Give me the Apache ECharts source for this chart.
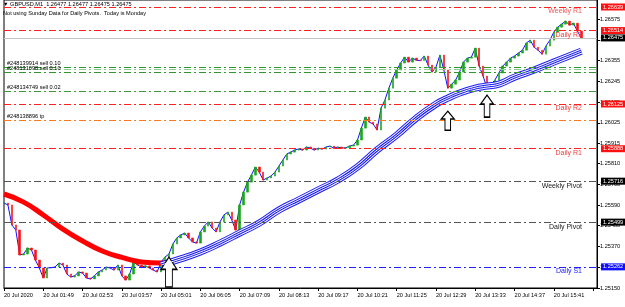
<!DOCTYPE html>
<html>
<head>
<meta charset="utf-8">
<script src="https://cdn.jsdelivr.net/npm/echarts@6/dist/echarts.min.js"></script>
<style>
html, body { margin: 0; padding: 0; background: #fff; }
#chart { width: 625px; height: 307px; }
</style>
</head>
<body>
<div id="chart"></div>
<script>
// GBPUSD M1, bar closes
const closes = [
  1.25600,
  1.25590, 1.25484, 1.25457, 1.25325, 1.25330, 1.25362, 1.25351, 1.25298, 1.25256, 1.25203,
  1.25256, 1.25258, 1.25261, 1.25282, 1.25272, 1.25224, 1.25208, 1.25214, 1.25235, 1.25229,
  1.25203, 1.25198, 1.25214, 1.25235, 1.25245, 1.25261, 1.25256, 1.25245, 1.25272, 1.25214,
  1.25192, 1.25224, 1.25288, 1.25272, 1.25261, 1.25267, 1.25256, 1.25245, 1.25235, 1.25288,
  1.25314, 1.25330, 1.25383, 1.25415, 1.25431, 1.25441, 1.25415, 1.25394, 1.25388, 1.25447,
  1.25478, 1.25500, 1.25468, 1.25447, 1.25500, 1.25537, 1.25552, 1.25510, 1.25457, 1.25590,
  1.25658, 1.25711, 1.25748, 1.25791, 1.25764, 1.25722, 1.25733, 1.25743, 1.25764, 1.25796,
  1.25828, 1.25860, 1.25870, 1.25881, 1.25886, 1.25881, 1.25897, 1.25891, 1.25881, 1.25891,
  1.25886, 1.25897, 1.25902, 1.25891, 1.25897, 1.25891, 1.25893, 1.25902, 1.25907, 1.25934,
  1.25997, 1.26056, 1.26029, 1.26019, 1.25987, 1.26103, 1.26146, 1.26209, 1.26262, 1.26305,
  1.26342, 1.26373, 1.26347, 1.26368, 1.26357, 1.26355, 1.26379, 1.26331, 1.26294, 1.26320,
  1.26384, 1.26305, 1.26209, 1.26230, 1.26252, 1.26294, 1.26347, 1.26368, 1.26373, 1.26421,
  1.26326, 1.26273, 1.26209, 1.26230, 1.26252, 1.26289, 1.26326, 1.26347, 1.26368, 1.26379,
  1.26395, 1.26410, 1.26448, 1.26463, 1.26426, 1.26410, 1.26389, 1.26432, 1.26463, 1.26506,
  1.26532, 1.26548, 1.26564, 1.26543, 1.26553, 1.26511, 1.26475
];

// moving averages as [bar, price]
const redMa = [
  [0, 1.25648], [5, 1.25605], [10, 1.25537], [15, 1.25462], [20, 1.25399],
  [25, 1.25346], [30, 1.25312], [35, 1.25288], [40, 1.25282], [42, 1.25282]
];
const blueMa = [
  [40, 1.25272], [45, 1.25304], [50, 1.25341], [55, 1.25388], [60, 1.25441],
  [65, 1.25494], [70, 1.25563], [75, 1.25616], [80, 1.25669], [85, 1.25722],
  [90, 1.25791], [95, 1.25881], [100, 1.25960], [105, 1.26050], [110, 1.26124],
  [113, 1.26156], [116, 1.26183], [120, 1.26209], [123, 1.26220], [126, 1.26230],
  [130, 1.26267], [135, 1.26305], [140, 1.26347], [147, 1.26405]
];

const barCount = 152;
const timeLabels = [
  '20 Jul 2020', '20 Jul 01:49', '20 Jul 02:53', '20 Jul 03:57', '20 Jul 05:01',
  '20 Jul 06:05', '20 Jul 07:09', '20 Jul 08:13', '20 Jul 09:17', '20 Jul 10:21',
  '20 Jul 11:25', '20 Jul 12:29', '20 Jul 13:33', '20 Jul 14:37', '20 Jul 15:41'
];
const priceTicks = [
  1.25150, 1.25260, 1.25370, 1.25480, 1.25590, 1.25700, 1.25810,
  1.25915, 1.26025, 1.26135, 1.26245, 1.26355, 1.26465, 1.26575
];

// pivot levels
const pivotNames = ['Weekly R1', 'Daily R3', 'Daily R2', 'Daily R1', 'Weekly Pivot', 'Daily Pivot', 'Daily S1'];
const pivotPrices = [1.26639, 1.26514, 1.26125, 1.25888, 1.25716, 1.25499, 1.25262];
const bidPrice = 1.26475;

// open orders
const orderNames = ['#248139914 sell 0.10', '', '#248131098 sell 0.10', '#248134749 sell 0.02', '#248138896 tp'];
const orderPrices = [1.26320, 1.26307, 1.26294, 1.26193, 1.26040];

// arrows [bar, price at tip]
const arrows = [[42, 1.25314], [113, 1.26087], [123, 1.26172]];

const FONT = 'Liberation Sans';
const pivotColor = {
  'Weekly R1': ['#ff2020', '#f05a5a', '#ff1010'],
  'Daily R3': ['#ff2020', '#f04040', '#ff1010'],
  'Daily R2': ['#ff2020', '#f04040', '#ff1010'],
  'Daily R1': ['#ff2020', '#f04040', '#ff1010'],
  'Weekly Pivot': ['#555555', '#202020', '#000000'],
  'Daily Pivot': ['#555555', '#202020', '#000000'],
  'Daily S1': ['#2020ff', '#2020ff', '#1010ff']
};
const orderColor = ['#2f962f', '#8ccc8c', '#2f962f', '#3a9a3a', '#ff7a1a'];
const dashDot = [7, 3, 2, 3];

const categories = [];
for (let i = 0; i < barCount; i++) categories.push(i);

const ohlc = closes.map((c, i) => {
  const o = i === 0 ? c : closes[i - 1];
  return [o, c, Math.min(o, c), Math.max(o, c)];
});

// price box on the right scale
function boxLabel(price, bg) {
  return {
    yAxis: price,
    lineStyle: { color: 'rgba(0,0,0,0)', width: 0 },
    label: {
      show: true, position: 'end', distance: [4, 0],
      formatter: price.toFixed(5), color: '#fff', backgroundColor: bg,
      padding: [1, 2, 0, 2], fontSize: 5.6, fontFamily: FONT
    }
  };
}

const lines = [];
pivotNames.forEach((name, k) => {
  const c = pivotColor[name];
  lines.push({
    yAxis: pivotPrices[k],
    lineStyle: { color: c[0], type: dashDot, width: 1 },
    label: {
      show: true, position: 'insideEndBottom', distance: [15, 1],
      formatter: name, color: c[1], fontSize: 7, fontFamily: FONT
    }
  });
});
orderNames.forEach((name, k) => {
  lines.push({
    yAxis: orderPrices[k],
    lineStyle: { color: orderColor[k], type: dashDot, width: 1 },
    label: {
      show: name !== '', position: 'insideStartTop', distance: [3, 0.5],
      formatter: name, color: '#000', fontSize: 5.6, fontFamily: FONT
    }
  });
});
lines.push({
  yAxis: bidPrice,
  lineStyle: { color: '#c4c4c4', type: 'solid', width: 1 },
  label: { show: false }
});
pivotNames.forEach((name, k) => lines.push(boxLabel(pivotPrices[k], pivotColor[name][2])));
lines.push(boxLabel(bidPrice, '#000'));

const arrowSizes = [[16, 30], [13, 19], [13, 22]];
const arrowPath = 'path://M7,0 L14,9 L10,9 L10,22 L4,22 L4,9 L0,9 Z';

const myChart = echarts.init(document.getElementById('chart'));
myChart.setOption({
  animation: false,
  backgroundColor: '#fff',
  textStyle: { fontFamily: FONT },
  title: {
    text: '\u25BC GBPUSD,M1  1.26477 1.26477 1.26475 1.26475',
    subtext: 'Not using Sunday Data for Daily Pivots.  Today is Monday',
    left: 3, top: 1, itemGap: 3, padding: 0,
    textStyle: { fontSize: 5.6, fontWeight: 'normal', color: '#000', fontFamily: FONT },
    subtextStyle: { fontSize: 5.6, color: '#000', fontFamily: FONT }
  },
  grid: {
    left: 4, right: 28, top: 0, bottom: 19,
    show: true, borderColor: '#000', borderWidth: 1
  },
  xAxis: {
    type: 'category',
    data: categories,
    boundaryGap: false,
    axisLine: { lineStyle: { color: '#000' } },
    axisTick: { interval: 9, length: 3, lineStyle: { color: '#000' } },
    axisLabel: {
      interval: 9, align: 'left', margin: 4,
      fontSize: 5.6, color: '#000', fontFamily: FONT,
      formatter: (v, i) => timeLabels[i / 10] || ''
    },
    splitLine: { show: false }
  },
  yAxis: {
    type: 'value',
    position: 'right',
    min: 1.25150,
    max: 1.26676,
    axisLine: { show: true, lineStyle: { color: '#000' } },
    axisTick: { show: true, length: 3, customValues: priceTicks, lineStyle: { color: '#000' } },
    axisLabel: {
      customValues: priceTicks, margin: 3,
      fontSize: 5.6, color: '#000', fontFamily: FONT,
      formatter: v => v.toFixed(5)
    },
    splitLine: { show: false }
  },
  series: [
    {
      type: 'line', data: closes, symbol: 'none',
      lineStyle: { color: '#1010ff', width: 1 }, z: 2
    },
    {
      type: 'candlestick', data: ohlc, barWidth: 2,
      itemStyle: { color: '#16a816', color0: '#ff1010', borderColor: '#16a816', borderColor0: '#ff1010', borderWidth: 0.6 },
      z: 3
    },
    {
      type: 'line', data: redMa, smooth: true, symbol: 'none',
      lineStyle: { color: '#ff0000', width: 5 }, z: 4
    },
    { type: 'line', data: blueMa, smooth: true, symbol: 'none', lineStyle: { color: '#1a1aff', width: 7 }, z: 4 },
    { type: 'line', data: blueMa, smooth: true, symbol: 'none', lineStyle: { color: '#ffffff', width: 5 }, z: 4 },
    { type: 'line', data: blueMa, smooth: true, symbol: 'none', lineStyle: { color: '#1a1aff', width: 3 }, z: 4 },
    {
      type: 'line', data: blueMa, smooth: true, symbol: 'none',
      lineStyle: { color: '#ffffff', width: 1 }, z: 5,
      markLine: { silent: true, symbol: 'none', precision: 5, data: lines },
      markPoint: {
        silent: true,
        data: arrows.map((a, k) => ({
          coord: a, symbol: arrowPath, symbolSize: arrowSizes[k],
          symbolOffset: [0, '50%'],
          itemStyle: { color: '#fff', borderColor: '#000', borderWidth: 1.2 },
          label: { show: false }
        }))
      }
    }
  ]
});
</script>
</body>
</html>
